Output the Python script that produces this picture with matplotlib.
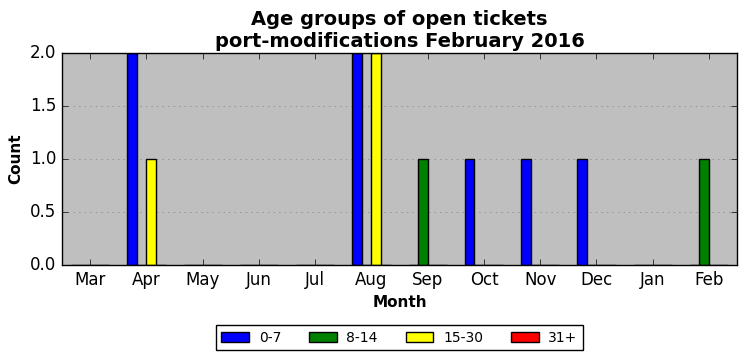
"""
Age groups of open tickets per month, grouped bar chart.
"""

import numpy as np
import matplotlib
matplotlib.use("Agg")
import matplotlib.pyplot as plt


OUTPUT_FILE = "out.png"

months = ["Mar", "Apr", "May", "Jun", "Jul", "Aug",
          "Sep", "Oct", "Nov", "Dec", "Jan", "Feb"]
age_groups = ["0-7", "8-14", "15-30", "31+"]
colors = ["blue", "green", "yellow", "red"]

counts_0_7 = [0, 2, 0, 0, 0, 2, 0, 1, 1, 1, 0, 0]
counts_8_14 = [0, 0, 0, 0, 0, 0, 1, 0, 0, 0, 0, 1]
counts_15_30 = [0, 1, 0, 0, 0, 2, 0, 0, 0, 0, 0, 0]
counts_31 = [0, 0, 0, 0, 0, 0, 0, 0, 0, 0, 0, 0]


def main() -> None:
    plt.style.use("classic")
    series = [counts_0_7, counts_8_14, counts_15_30, counts_31]

    fig = plt.figure(figsize=(7.46, 3.61), dpi=100, facecolor="white")
    ax = fig.add_axes([0.0831, 0.266, 0.905, 0.587])
    ax.set_facecolor("#bfbfbf")

    x = np.arange(len(months))
    width = 0.17
    for i, (vals, label, color) in enumerate(zip(series, age_groups, colors)):
        ax.bar(x + (i - 2) * width, vals, width, align="edge",
               color=color, edgecolor="black", label=label)

    ax.set_xlim(-0.5, 11.5)
    ax.set_ylim(0, 2)
    ax.set_xticks(x)
    ax.set_xticklabels(months)
    ax.set_yticks([0, 0.5, 1.0, 1.5, 2.0])
    ax.tick_params(labelsize=12)
    ax.yaxis.grid(True, linestyle=":", color="gray")
    ax.set_axisbelow(True)

    ax.set_xlabel("Month", fontsize=11, fontweight="bold")
    ax.set_ylabel("Count", fontsize=11, fontweight="bold")
    ax.set_title("Age groups of open tickets\nport-modifications February 2016",
                 fontsize=14, fontweight="bold", y=0.995)

    fig.legend(loc="center", bbox_to_anchor=(0.5355, 0.064), ncol=4,
               fontsize=10, handlelength=2.0, handletextpad=0.7,
               columnspacing=2.0, borderpad=0.4)

    fig.savefig(OUTPUT_FILE, dpi=100, facecolor="white")
    plt.close(fig)


if __name__ == "__main__":
    main()
